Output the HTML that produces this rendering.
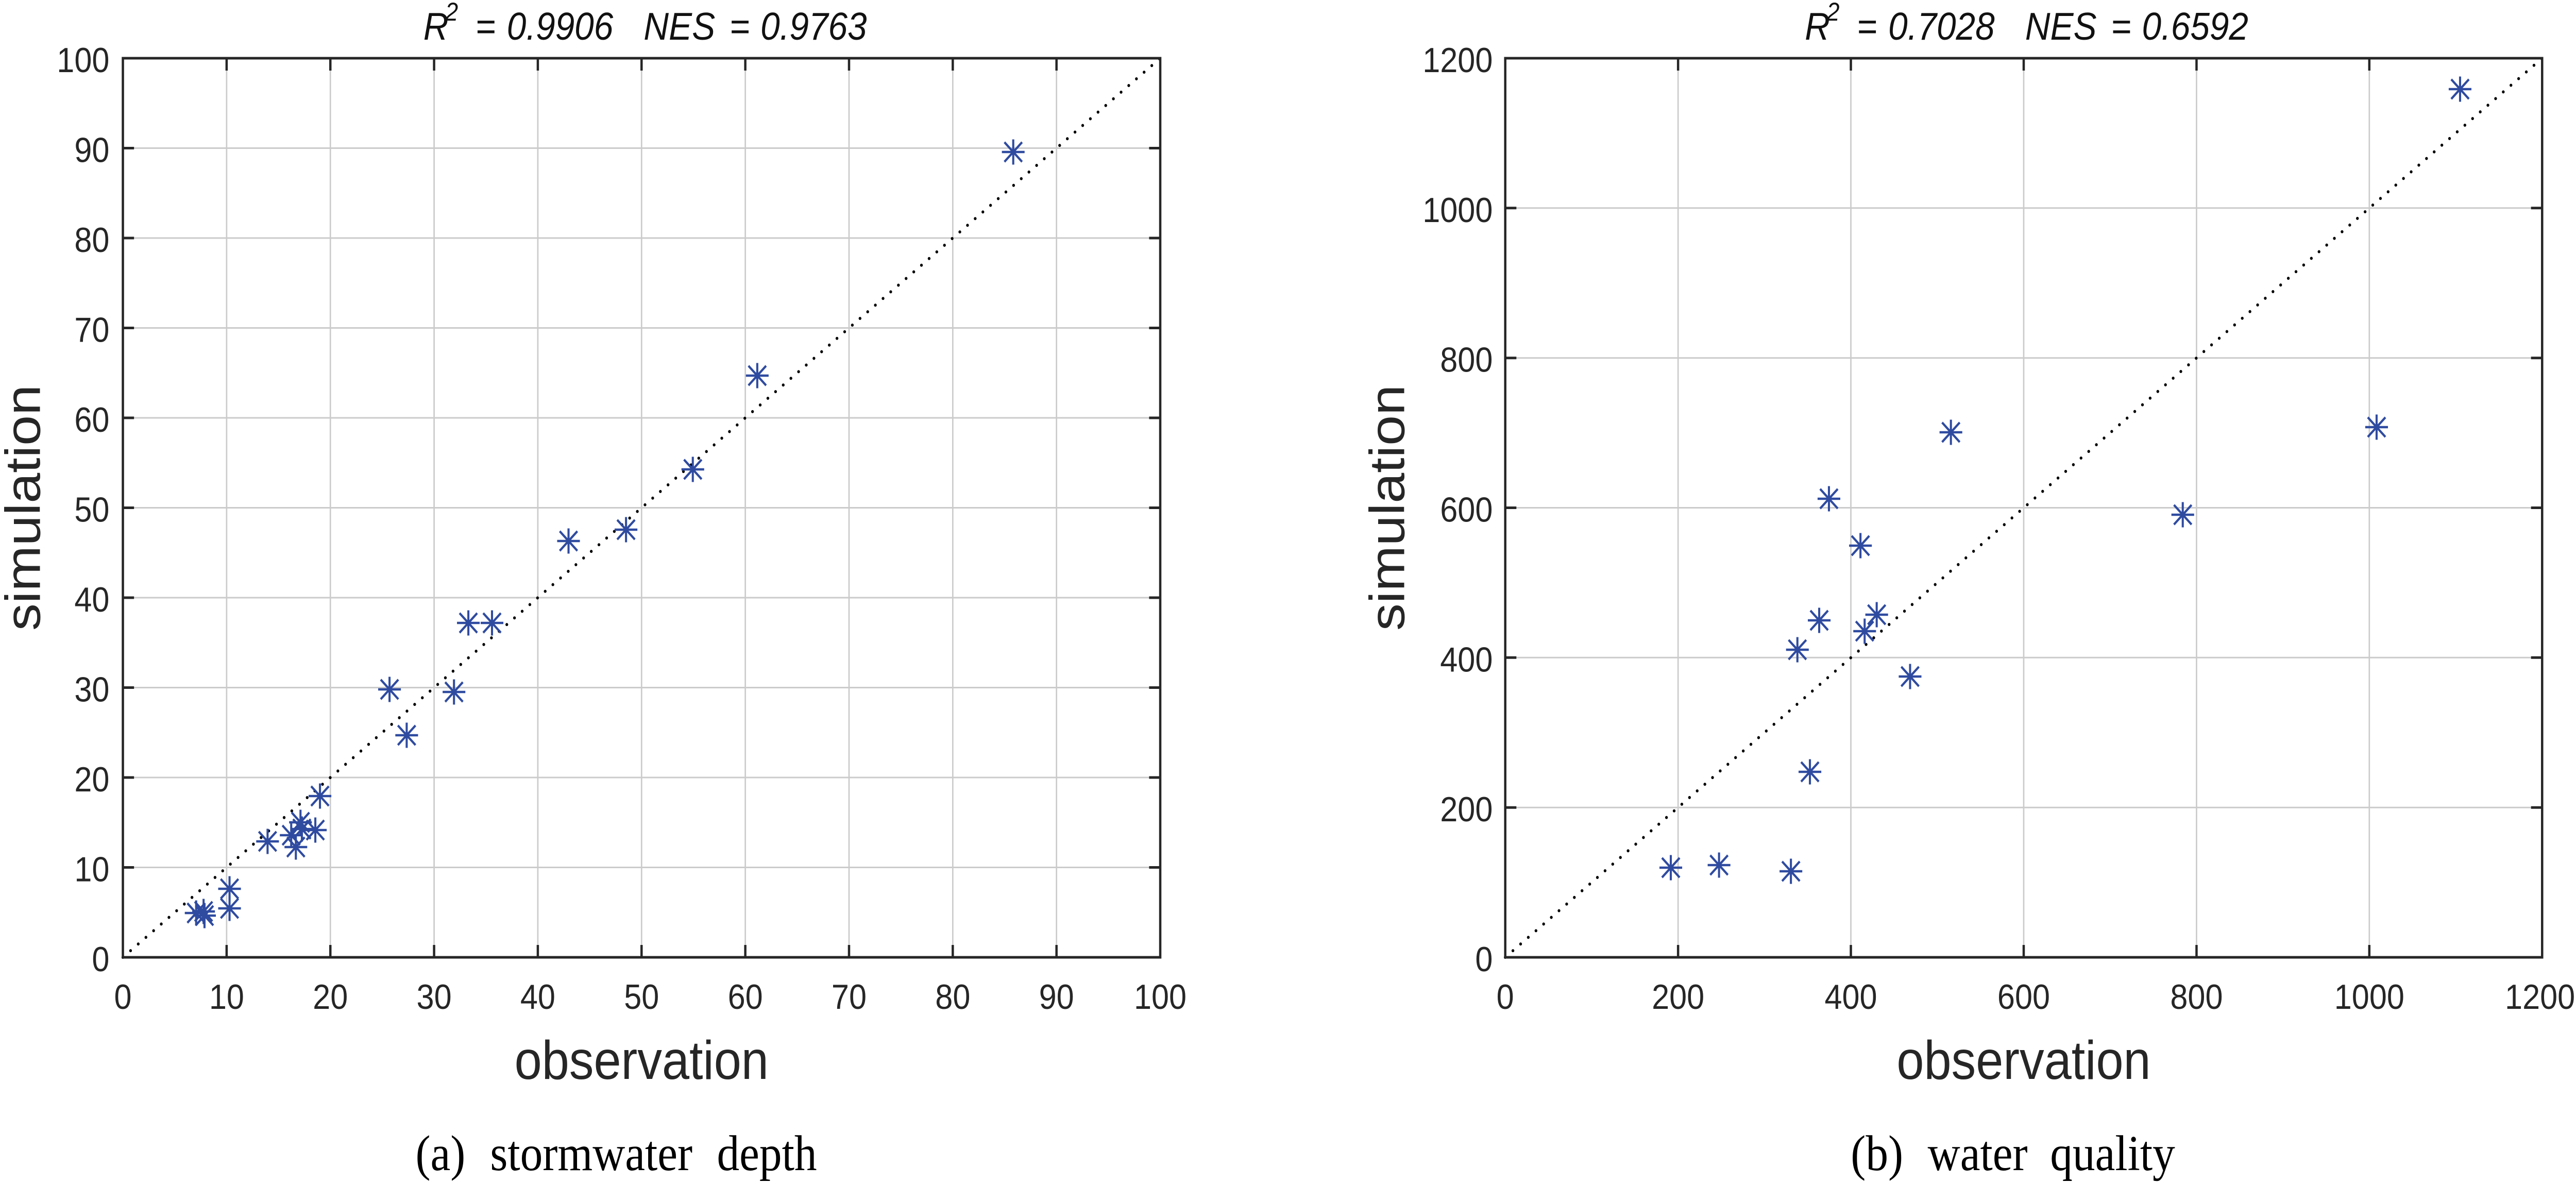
<!DOCTYPE html>
<html>
<head>
<meta charset="utf-8">
<meta name="viewport" content="width=5555, initial-scale=1">
<style>
html,body{margin:0;padding:0;background:#fff;overflow:hidden;width:100%;height:100%;}
svg{display:block;position:fixed;left:0;top:0;width:100vw;height:100vh;}
.tk{font-family:"Liberation Sans",Arial,sans-serif;font-size:68px;fill:#262626;}
.lab{font-family:"Liberation Sans",Arial,sans-serif;font-size:106px;fill:#262626;}
.ttl{font-family:"Liberation Sans",Arial,sans-serif;font-size:75px;font-style:italic;fill:#111;}
.sup{font-family:"Liberation Sans",Arial,sans-serif;font-size:50px;font-style:italic;fill:#111;}
.cap{font-family:"Liberation Serif","Times New Roman",serif;font-size:97px;fill:#000;}
</style>
</head>
<body>
<svg viewBox="0 0 5555 2296" preserveAspectRatio="none" xmlns="http://www.w3.org/2000/svg">
<defs>
<g id="ast" stroke="#2f4ba0" stroke-width="4.5" fill="none">
<path d="M-24.5 0H24.5M0 -24.5V24.5M-19 -19L19 19M-19 19L19 -19"/>
</g>
</defs>

<!-- ================= LEFT CHART ================= -->
<g stroke="#cbcbcb" stroke-width="3" fill="none">
<path d="M488.7 113V1858M712.4 113V1858M936.1 113V1858M1159.8 113V1858M1383.5 113V1858M1607.2 113V1858M1830.9 113V1858M2054.6 113V1858M2278.3 113V1858"/>
<path d="M265 1683.5H2502M265 1509H2502M265 1334.5H2502M265 1160H2502M265 985.5H2502M265 811H2502M265 636.5H2502M265 462H2502M265 287.5H2502"/>
</g>
<line x1="265" y1="1858" x2="2502" y2="113" stroke="#000" stroke-width="6" stroke-linecap="round" stroke-dasharray="0 21"/>
<use href="#ast" x="2185" y="295"/>
<use href="#ast" x="1633" y="729"/>
<use href="#ast" x="1494" y="911"/>
<use href="#ast" x="1350" y="1028"/>
<use href="#ast" x="1226" y="1050"/>
<use href="#ast" x="1010" y="1209"/>
<use href="#ast" x="1061" y="1209"/>
<use href="#ast" x="979" y="1343"/>
<use href="#ast" x="840" y="1338"/>
<use href="#ast" x="877" y="1427"/>
<use href="#ast" x="690" y="1545"/>
<use href="#ast" x="577" y="1633"/>
<use href="#ast" x="628" y="1621"/>
<use href="#ast" x="638" y="1644"/>
<use href="#ast" x="648" y="1596"/>
<use href="#ast" x="651" y="1609"/>
<use href="#ast" x="680" y="1611"/>
<use href="#ast" x="495" y="1725"/>
<use href="#ast" x="495" y="1763"/>
<use href="#ast" x="423" y="1772"/>
<use href="#ast" x="439" y="1769"/>
<use href="#ast" x="441" y="1777"/>
<rect x="265" y="113" width="2237" height="1745" fill="none" stroke="#262626" stroke-width="5"/>
<g stroke="#262626" stroke-width="5" fill="none">
<path d="M488.7 1858v-24M712.4 1858v-24M936.1 1858v-24M1159.8 1858v-24M1383.5 1858v-24M1607.2 1858v-24M1830.9 1858v-24M2054.6 1858v-24M2278.3 1858v-24"/>
<path d="M488.7 113v24M712.4 113v24M936.1 113v24M1159.8 113v24M1383.5 113v24M1607.2 113v24M1830.9 113v24M2054.6 113v24M2278.3 113v24"/>
<path d="M265 1683.5h24M265 1509h24M265 1334.5h24M265 1160h24M265 985.5h24M265 811h24M265 636.5h24M265 462h24M265 287.5h24"/>
<path d="M2502 1683.5h-24M2502 1509h-24M2502 1334.5h-24M2502 1160h-24M2502 985.5h-24M2502 811h-24M2502 636.5h-24M2502 462h-24M2502 287.5h-24"/>
</g>
<g class="tk" text-anchor="middle">
<text x="265" y="1958">0</text>
<text x="488.7" y="1958">10</text>
<text x="712.4" y="1958">20</text>
<text x="936.1" y="1958">30</text>
<text x="1159.8" y="1958">40</text>
<text x="1383.5" y="1958">50</text>
<text x="1607.2" y="1958">60</text>
<text x="1830.9" y="1958">70</text>
<text x="2054.6" y="1958">80</text>
<text x="2278.3" y="1958">90</text>
<text x="2502" y="1958">100</text>
</g>
<g class="tk" text-anchor="end">
<text x="236" y="1885">0</text>
<text x="236" y="1710.5">10</text>
<text x="236" y="1536">20</text>
<text x="236" y="1361.5">30</text>
<text x="236" y="1187">40</text>
<text x="236" y="1012.5">50</text>
<text x="236" y="838">60</text>
<text x="236" y="663.5">70</text>
<text x="236" y="489">80</text>
<text x="236" y="314.5">90</text>
<text x="236" y="140">100</text>
</g>
<text class="lab" x="1383.5" y="2094" text-anchor="middle">observation</text>
<text class="lab" transform="translate(86,985.5) rotate(-90)" text-anchor="middle">simulation</text>
<text class="ttl" x="913" y="77">R</text>
<text class="sup" x="960" y="40">2</text>
<text class="ttl" x="1025" y="77">=</text>
<text class="ttl" x="1093" y="77">0.9906</text>
<text class="ttl" x="1388" y="77">NES</text>
<text class="ttl" x="1573" y="77">=</text>
<text class="ttl" x="1640" y="77">0.9763</text>
<text class="cap" x="896" y="2271">(a)</text>
<text class="cap" x="1057" y="2271">stormwater</text>
<text class="cap" x="1546" y="2271">depth</text>

<!-- ================= RIGHT CHART ================= -->
<g stroke="#cbcbcb" stroke-width="3" fill="none">
<path d="M3618.7 113V1858M3991.3 113V1858M4364 113V1858M4736.7 113V1858M5109.3 113V1858"/>
<path d="M3246 1567.2H5482M3246 1276.3H5482M3246 985.5H5482M3246 694.7H5482M3246 403.8H5482"/>
</g>
<line x1="3246" y1="1858" x2="5482" y2="113" stroke="#000" stroke-width="6" stroke-linecap="round" stroke-dasharray="0 21"/>
<use href="#ast" x="5305" y="173"/>
<use href="#ast" x="4207" y="839"/>
<use href="#ast" x="5125" y="829"/>
<use href="#ast" x="3944" y="968"/>
<use href="#ast" x="4012" y="1059"/>
<use href="#ast" x="4707" y="999"/>
<use href="#ast" x="3923" y="1204"/>
<use href="#ast" x="4047" y="1193"/>
<use href="#ast" x="4021" y="1225"/>
<use href="#ast" x="3876" y="1261"/>
<use href="#ast" x="4119" y="1313"/>
<use href="#ast" x="3903" y="1498"/>
<use href="#ast" x="3603" y="1684"/>
<use href="#ast" x="3707" y="1679"/>
<use href="#ast" x="3862" y="1691"/>
<rect x="3246" y="113" width="2236" height="1745" fill="none" stroke="#262626" stroke-width="5"/>
<g stroke="#262626" stroke-width="5" fill="none">
<path d="M3618.7 1858v-24M3991.3 1858v-24M4364 1858v-24M4736.7 1858v-24M5109.3 1858v-24"/>
<path d="M3618.7 113v24M3991.3 113v24M4364 113v24M4736.7 113v24M5109.3 113v24"/>
<path d="M3246 1567.2h24M3246 1276.3h24M3246 985.5h24M3246 694.7h24M3246 403.8h24"/>
<path d="M5482 1567.2h-24M5482 1276.3h-24M5482 985.5h-24M5482 694.7h-24M5482 403.8h-24"/>
</g>
<g class="tk" text-anchor="middle">
<text x="3246" y="1958">0</text>
<text x="3618.7" y="1958">200</text>
<text x="3991.3" y="1958">400</text>
<text x="4364" y="1958">600</text>
<text x="4736.7" y="1958">800</text>
<text x="5109.3" y="1958">1000</text>
</g>
<text class="tk" x="5553" y="1958" text-anchor="end">1200</text>
<g class="tk" text-anchor="end">
<text x="3219" y="1885">0</text>
<text x="3219" y="1594.2">200</text>
<text x="3219" y="1303.3">400</text>
<text x="3219" y="1012.5">600</text>
<text x="3219" y="721.7">800</text>
<text x="3219" y="430.8">1000</text>
<text x="3219" y="140">1200</text>
</g>
<text class="lab" x="4364" y="2094" text-anchor="middle">observation</text>
<text class="lab" transform="translate(3028,985.5) rotate(-90)" text-anchor="middle">simulation</text>
<text class="ttl" x="3892" y="77">R</text>
<text class="sup" x="3939" y="40">2</text>
<text class="ttl" x="4004" y="77">=</text>
<text class="ttl" x="4072" y="77">0.7028</text>
<text class="ttl" x="4367" y="77">NES</text>
<text class="ttl" x="4552" y="77">=</text>
<text class="ttl" x="4619" y="77">0.6592</text>
<text class="cap" x="3991" y="2271">(b)</text>
<text class="cap" x="4157" y="2271">water</text>
<text class="cap" x="4421" y="2271">quality</text>
</svg>
</body>
</html>
